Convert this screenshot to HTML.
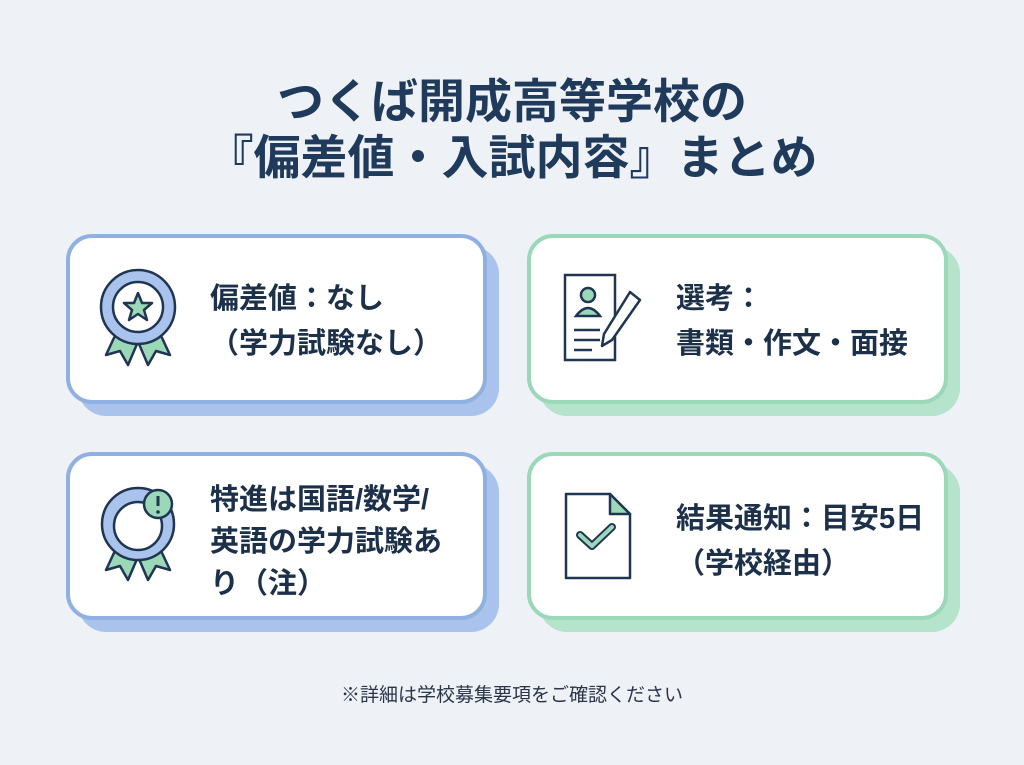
<!DOCTYPE html>
<html><head><meta charset="utf-8"><style>
body{margin:0;width:1024px;height:765px;background:#eef2f7;font-family:"Liberation Sans","Noto Sans CJK JP",sans-serif;position:relative;overflow:hidden;color:#1f3552}
.t{position:absolute;left:0;width:1024px;text-align:center;font-weight:bold;font-size:47px;line-height:56px;color:#1f3a5a}
.sh{position:absolute;border-radius:28px}
.c{position:absolute;background:#fff;border-radius:26px;box-sizing:border-box}
.c.b{border:4px solid #8fb0e0}
.c.g{border:4px solid #9bd8b8}
.tx{position:absolute;font-weight:bold;font-size:29px;line-height:45px;color:#1c3049;white-space:nowrap}
svg{position:absolute}
</style></head><body>
<div class="t" style="top:74px">つくば開成高等学校の</div>
<div class="t" style="top:130px">『偏差値・入試内容』まとめ</div>

<div class="sh" style="left:78px;top:246px;width:421px;height:170px;background:#a9c3ec"></div>
<div class="c b" style="left:66px;top:234px;width:421px;height:170px"></div>
<div class="sh" style="left:539px;top:246px;width:421px;height:170px;background:#b5e3cb"></div>
<div class="c g" style="left:527px;top:234px;width:421px;height:170px"></div>
<div class="sh" style="left:78px;top:464px;width:421px;height:168px;background:#a9c3ec"></div>
<div class="c b" style="left:66px;top:452px;width:421px;height:168px"></div>
<div class="sh" style="left:539px;top:464px;width:421px;height:168px;background:#b5e3cb"></div>
<div class="c g" style="left:527px;top:452px;width:421px;height:168px"></div>

<svg style="left:98px;top:265px" width="90" height="110" viewBox="0 0 90 110">
<path d="M22 60 L8 90 L22 86 L30 100 L42 72Z M58 60 L72 90 L58 86 L50 100 L38 72Z" fill="#9bd8b8" stroke="#1f3552" stroke-width="2.5" stroke-linejoin="round"/>
<circle cx="40" cy="42" r="37" fill="#a9c3ec" stroke="#1f3552" stroke-width="2.5"/>
<circle cx="40" cy="42" r="25" fill="#fff" stroke="#1f3552" stroke-width="2.5"/>
<path d="M40 28 L44 38 L54 38 L46 45 L49 55 L40 49 L31 55 L34 45 L26 38 L36 38Z" fill="#9bd8b8" stroke="#1f3552" stroke-width="2.5" stroke-linejoin="round"/>
</svg>
<div class="tx" style="left:210px;top:277px">偏差値：なし<br>（学力試験なし）</div>

<svg style="left:560px;top:270px" width="90" height="100" viewBox="0 0 90 100">
<path d="M5 5 H55 V90 H5Z" fill="#fff" stroke="#1f3552" stroke-width="2.5"/>
<circle cx="28" cy="25" r="7" fill="#9bd8b8" stroke="#1f3552" stroke-width="2.5"/>
<path d="M16 46 Q28 30 40 46Z" fill="#9bd8b8" stroke="#1f3552" stroke-width="2.5"/>
<path d="M14 60 H40 M14 70 H40 M14 80 H32" stroke="#1f3552" stroke-width="2.5"/>
<path d="M70 22 L80 30 L52 70 L42 76 L44 64Z" fill="#fff" stroke="#1f3552" stroke-width="2.5" stroke-linejoin="round"/>
</svg>
<div class="tx" style="left:676px;top:277px">選考：<br>書類・作文・面接</div>

<svg style="left:98px;top:482px" width="90" height="110" viewBox="0 0 90 110">
<path d="M22 58 L8 88 L22 84 L30 98 L42 70Z M58 58 L72 88 L58 84 L50 98 L38 70Z" fill="#9bd8b8" stroke="#1f3552" stroke-width="2.5" stroke-linejoin="round"/>
<circle cx="40" cy="42" r="36" fill="#a9c3ec" stroke="#1f3552" stroke-width="2.5"/>
<circle cx="40" cy="44" r="24" fill="#fff" stroke="#1f3552" stroke-width="2.5"/>
<circle cx="60" cy="22" r="14" fill="#9bd8b8" stroke="#1f3552" stroke-width="2.5"/>
<path d="M60 14 V24" stroke="#1f3552" stroke-width="3"/><circle cx="60" cy="30" r="1.8" fill="#1f3552"/>
</svg>
<div class="tx" style="left:210px;top:479px;line-height:42px">特進は国語/数学/<br>英語の学力試験あ<br>り（注）</div>

<svg style="left:560px;top:490px" width="80" height="100" viewBox="0 0 80 100">
<path d="M6 4 H50 L70 24 V88 H6Z" fill="#fff" stroke="#1f3552" stroke-width="2.5" stroke-linejoin="round"/>
<path d="M50 4 V24 H70Z" fill="#9bd8b8" stroke="#1f3552" stroke-width="2.5" stroke-linejoin="round"/>
<path d="M20 45 L32 56 L52 37" fill="none" stroke="#1f3552" stroke-width="8" stroke-linecap="round" stroke-linejoin="round"/>
<path d="M20 45 L32 56 L52 37" fill="none" stroke="#9bd8b8" stroke-width="4" stroke-linecap="round" stroke-linejoin="round"/>
</svg>
<div class="tx" style="left:676px;top:497px">結果通知：目安5日<br>（学校経由）</div>

<div style="position:absolute;left:0;width:1024px;top:680px;text-align:center;font-size:19px;color:#2a3548">※詳細は学校募集要項をご確認ください</div>
</body></html>
